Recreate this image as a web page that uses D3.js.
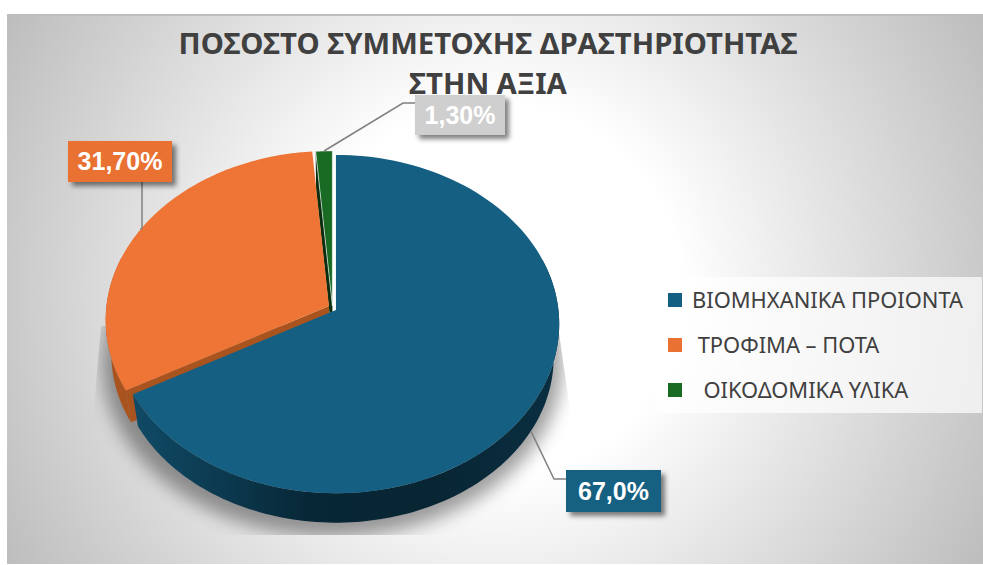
<!DOCTYPE html>
<html>
<head>
<meta charset="utf-8">
<script src="https://cdn.jsdelivr.net/npm/d3@7/dist/d3.min.js"></script>
<style>
html,body{margin:0;padding:0;background:#fff}
svg{display:block}
text{white-space:pre}
</style>
</head>
<body>
<svg id="chart" width="983" height="565"></svg>
<script>
const titleLines = ["ΠΟΣΟΣΤΟ ΣΥΜΜΕΤΟΧΗΣ ΔΡΑΣΤΗΡΙΟΤΗΤΑΣ", "ΣΤΗΝ ΑΞΙΑ"];
const categories = ["ΒΙΟΜΗΧΑΝΙΚΑ ΠΡΟΙΟΝΤΑ", " ΤΡΟΦΙΜΑ – ΠΟΤΑ", "  ΟΙΚΟΔΟΜΙΚΑ ΥΛΙΚΑ"];
const values = [67.0, 31.7, 1.3];
const valueLabels = ["67,0%", "31,70%", "1,30%"];
const colors = ["#156082", "#EE7535", "#196B24"];
const legendColors = ["#156082", "#E97132", "#196B24"];
const labelFills = ["#156082", "#E97132", "#CFCFCF"];
const sideColors = ["url(#blueSide)", "#A9541F", "#0B2E10"];
const explode = [4, 4, 2];

const W = 983, H = 565;
const svg = d3.select("#chart");
const defs = svg.append("defs");

// backdrop
const bg = defs.append("radialGradient").attr("id", "bg").attr("gradientUnits", "userSpaceOnUse")
  .attr("cx", 495).attr("cy", 290).attr("r", 560);
[[0, "#ffffff"], [0.33, "#ffffff"], [1, "#bdbdbd"]].forEach(s => bg.append("stop").attr("offset", s[0]).attr("stop-color", s[1]));
const bs = defs.append("linearGradient").attr("id", "blueSide").attr("gradientUnits", "userSpaceOnUse")
  .attr("x1", 133).attr("x2", 556).attr("y1", 0).attr("y2", 0);
[[0, "#104a66"], [0.2, "#0c3a50"], [0.42, "#072736"], [0.7, "#082533"], [1, "#0a2f41"]].forEach(s => bs.append("stop").attr("offset", s[0]).attr("stop-color", s[1]));
const blur = defs.append("filter").attr("id", "soft").attr("x", "-20%").attr("y", "-20%").attr("width", "140%").attr("height", "140%");
blur.append("feGaussianBlur").attr("stdDeviation", 9);
const ds = defs.append("filter").attr("id", "boxShadow").attr("x", "-20%").attr("y", "-30%").attr("width", "150%").attr("height", "170%");
ds.append("feDropShadow").attr("dx", 4).attr("dy", 4).attr("stdDeviation", 2.5).attr("flood-color", "#000").attr("flood-opacity", 0.5);
defs.append("clipPath").attr("id", "shadowClip").append("path").attr("d", "M101,326L92,430L92,535L575,535L573,430L558,326Z");

svg.append("rect").attr("x", 7).attr("y", 14).attr("width", W - 7).attr("height", 550).attr("fill", "url(#bg)");
svg.append("rect").attr("x", 7).attr("y", 14).attr("width", W - 7).attr("height", 2).attr("fill", "#bdbdbd");

// title
svg.append("g").selectAll("text").data(titleLines).join("text")
  .attr("x", 488).attr("y", (d, i) => 54 + i * 40)
  .attr("text-anchor", "middle")
  .attr("font-family", "'Noto Sans', sans-serif").attr("font-weight", 700).attr("font-size", 29.3)
  .attr("fill", "#404040").text(d => d);

// tilted pie: a circle seen through a small perspective
const cx = 332.5, cy = 308, rx = 222.5, ry = 168, k = 0.083, depth = 34, shrink = 0.975;
const arcs = d3.pie().sort(null)(values);
function flat(a, x0, y0) {
  const X = Math.sin(a), Y = Math.cos(a), w = 1 + k * Y;
  return [x0 + rx * X / w, y0 - ry * Y / w];
}
function lower(a, x0, y0) {
  const p = flat(a, 0, 0);
  return [x0 + p[0] * shrink, y0 + depth + p[1] * shrink];
}
arcs.forEach((d, i) => {
  const mid = (d.startAngle + d.endAngle) / 2;
  d.x0 = cx + explode[i] * Math.sin(mid);
  d.y0 = cy - explode[i] * Math.cos(mid);
  d.mid = mid;
});
const line = d3.line();
const samples = (a0, a1) => d3.range(0, 121).map(i => a0 + (a1 - a0) * i / 120);
const topPath = d => line([[d.x0, d.y0], ...samples(d.startAngle, d.endAngle).map(a => flat(a, d.x0, d.y0))]) + "Z";
const rimPath = (d, a0, a1) => line([
  ...samples(a0, a1).map(a => flat(a, d.x0, d.y0)),
  ...samples(a1, a0).map(a => lower(a, d.x0, d.y0))
]) + "Z";
const cutPath = (d, a) => line([[d.x0, d.y0], flat(a, d.x0, d.y0), lower(a, d.x0, d.y0), [d.x0, d.y0 + depth]]) + "Z";

// ground shadow
const all = samples(0, 2 * Math.PI);
svg.append("g").attr("clip-path", "url(#shadowClip)").append("path")
  .attr("d", line(all.map(a => { const p = flat(a, 0, 0); return [cx + p[0] * 1.03, cy + 40 + p[1] * 1.03]; })) + "Z")
  .attr("fill", "#000").attr("opacity", 0.38).attr("filter", "url(#soft)");

const pieG = svg.append("g");
const [blue, orange, green] = arcs;
// orange body
pieG.append("path").attr("d", rimPath(orange, orange.startAngle, orange.startAngle + 0.8)).attr("fill", sideColors[1]);
pieG.append("path").attr("d", cutPath(orange, orange.startAngle)).attr("fill", sideColors[1]);
// green body
pieG.append("path").attr("d", cutPath(green, green.startAngle)).attr("fill", sideColors[2]);
pieG.append("path").attr("d", topPath(orange)).attr("fill", colors[1]);
pieG.append("path").attr("d", topPath(green)).attr("fill", colors[2]).attr("stroke", "#ffffff").attr("stroke-opacity", 0.6).attr("stroke-width", 1);
// blue body
pieG.append("path").attr("d", rimPath(blue, Math.PI * 0.4, blue.endAngle)).attr("fill", sideColors[0]);
pieG.append("path").attr("d", topPath(blue)).attr("fill", colors[0]);

// leader lines, each from the middle of its slice to its label
const boxes = [
  { x: 566, y: 470, w: 95, h: 42 },
  { x: 68, y: 141, w: 104, h: 41 },
  { x: 415, y: 95, w: 90, h: 40 }
];
const anchors = [
  lower(blue.mid, blue.x0, blue.y0),
  flat(orange.mid, orange.x0, orange.y0),
  flat(green.mid, green.x0, green.y0)
];
const leaders = [
  [anchors[0], [554, 479], [566, 479]],
  [anchors[1], [142, 228], [142, 182]],
  [anchors[2], [403, 103], [415, 103]]
];
svg.append("g").selectAll("path").data(leaders).join("path")
  .attr("d", d => line(d)).attr("fill", "none").attr("stroke", "#808080").attr("stroke-width", 1.5);

// value labels
const lab = svg.append("g").selectAll("g").data(valueLabels).join("g");
lab.append("rect").attr("x", (d, i) => boxes[i].x).attr("y", (d, i) => boxes[i].y)
  .attr("width", (d, i) => boxes[i].w).attr("height", (d, i) => boxes[i].h)
  .attr("fill", (d, i) => labelFills[i]).attr("filter", "url(#boxShadow)");
lab.append("text").attr("x", (d, i) => boxes[i].x + boxes[i].w / 2).attr("y", (d, i) => boxes[i].y + boxes[i].h / 2 + 8.5)
  .attr("text-anchor", "middle").attr("font-family", "'Liberation Sans', Arial, sans-serif")
  .attr("font-weight", 700).attr("font-size", 25).attr("fill", "#fff").text(d => d);

// legend
svg.append("rect").attr("x", 656).attr("y", 277).attr("width", 326).attr("height", 136).attr("fill", "#fff").attr("opacity", 0.7);
const rowY = d3.scalePoint().domain(categories).range([300, 390]);
const leg = svg.append("g").selectAll("g").data(categories).join("g").attr("transform", d => `translate(0,${rowY(d)})`);
leg.append("rect").attr("x", 668).attr("y", -7).attr("width", 14).attr("height", 14).attr("fill", (d, i) => legendColors[i]);
leg.append("text").attr("x", 692).attr("y", 7.5).attr("font-family", "'Noto Sans', sans-serif").attr("font-size", 21.9)
  .attr("fill", "#404040").text(d => d);
</script>
</body>
</html>
